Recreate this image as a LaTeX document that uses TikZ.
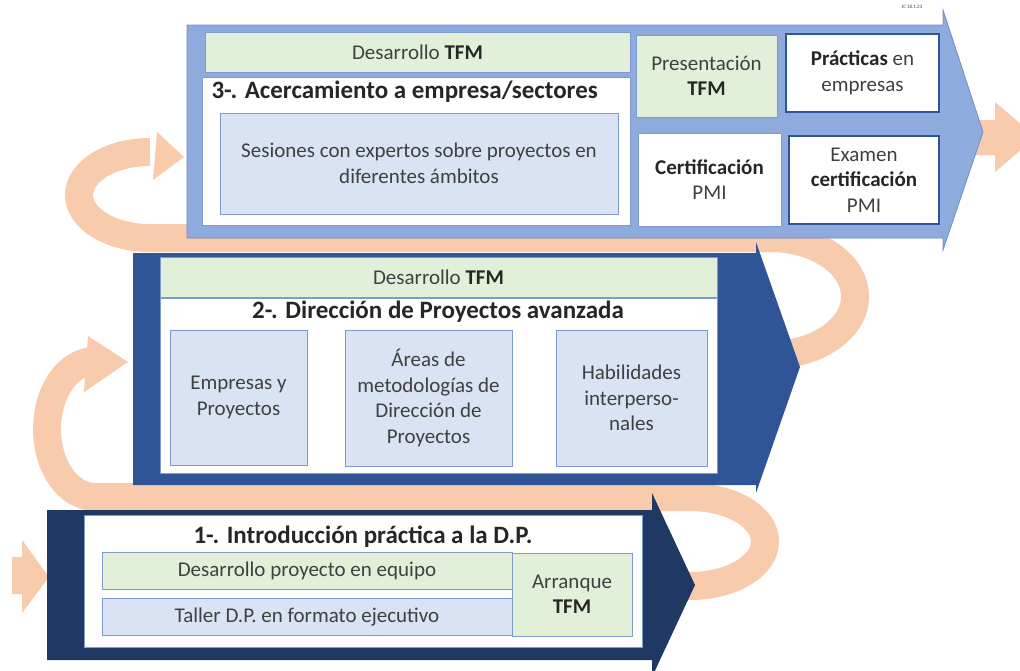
\documentclass[tikz,border=0pt]{standalone}
\usepackage{fontspec}
\setmainfont{Carlito}
\usetikzlibrary{positioning}

\definecolor{peach}{HTML}{F8CBAD}
\definecolor{lightblue}{HTML}{8FAADC}
\definecolor{lightedge}{HTML}{6F8FCB}
\definecolor{midblue}{HTML}{2F5597}
\definecolor{navy}{HTML}{1F3864}
\definecolor{boxgreen}{HTML}{E2F0D9}
\definecolor{boxblue}{HTML}{DAE3F3}
\definecolor{edge}{HTML}{7F9ACD}
\definecolor{txt}{HTML}{404040}
\newcommand{\strongtxt}[1]{\textbf{\textcolor{black!85}{#1}}}

\begin{document}
\begin{tikzpicture}[x=1pt, y=-1pt,
	box/.style={draw=edge, line width=0.8pt, text=txt, align=center, inner sep=2pt, font=\fontsize{21}{25.5}\selectfont},
	tfmbox/.style={box, fill=boxgreen},
	topicbox/.style={box, fill=boxblue},
	plainbox/.style={box, fill=white},
	strongbox/.style={box, fill=white, draw=midblue, line width=2.4pt},
	panel/.style={draw=edge, line width=0.8pt, fill=white},
	title/.style={font=\fontsize{25}{30}\selectfont\bfseries, text=black!85},
	band/.style={draw=peach, line width=28pt}]
	\useasboundingbox (0,0) rectangle (1020,670);

	% peach connectors behind the stages
	\fill[peach] (12,557) -- (22,557) -- (22,540) -- (49,577) -- (22,613) -- (22,594) -- (12,594) -- cycle;
	\draw[band] (660,586) -- (690,586) .. controls (731.4,586) and (765,566.1) .. (765,541.5)
		.. controls (765,516.9) and (731.4,497) .. (690,497) -- (95,497)
		.. controls (68.5,497) and (47,466.6) .. (47,429)
		.. controls (47,391.4) and (68.5,361) .. (95,361);
	\fill[peach] (88,336) -- (128,362) -- (84,392) -- cycle;
	\draw[band] (760,355) -- (770,355) .. controls (816.9,355) and (855,328.8) .. (855,296.5)
		.. controls (855,264.2) and (816.9,238) .. (770,238) -- (150,238)
		.. controls (110.8,238) and (79,218.7) .. (79,195)
		.. controls (79,171.3) and (110.8,152) .. (150,152);
	\fill[peach] (157,132) -- (184,157) -- (153,180) -- cycle;
	\fill[peach] (940,120) -- (995,120) -- (995,102) -- (1036,137) -- (995,172) -- (995,155) -- (940,155) -- cycle;

	% stage 3
	\filldraw[fill=lightblue, draw=lightedge, line width=0.8pt] (187,25) -- (943,25) -- (943,10) -- (983,132) -- (943,250) -- (943,238) -- (187,238) -- cycle;
	\node[font=\fontsize{5}{6}\selectfont, text=txt] (stamp) at (912,7) {JC 18.1.23};
	\node[tfmbox, minimum width=425, minimum height=40] (dtfm3) at (417.5,52) {Desarrollo \strongtxt{TFM}};
	\node[panel, minimum width=428, minimum height=148] (panel3) at (416,151) {};
	\node[title, anchor=west] (title3) at (208,92) {3-. Acercamiento a empresa/sectores};
	\node[topicbox, minimum width=398, minimum height=101] (ses) at (419,163.5) {Sesiones con expertos sobre proyectos en\\diferentes ámbitos};
	\node[tfmbox, minimum width=141, minimum height=82] (pres) at (706.5,76) {Presentación\\\strongtxt{TFM}};
	\node[strongbox, minimum width=153, minimum height=78] (prac) at (862.5,73) {\strongtxt{Prácticas} en\\empresas};
	\node[plainbox, minimum width=143, minimum height=93] (cert) at (709.5,179.5) {\strongtxt{Certificación}\\PMI};
	\node[strongbox, minimum width=150, minimum height=88] (exam) at (864,180) {Examen\\\strongtxt{certificación}\\PMI};

	% stage 2
	\fill[midblue] (133,253) -- (756,253) -- (756,242) -- (800,367) -- (756,493) -- (756,485) -- (133,485) -- cycle;
	\node[tfmbox, minimum width=557, minimum height=40] (dtfm2) at (438.5,277) {Desarrollo \strongtxt{TFM}};
	\node[panel, minimum width=557, minimum height=175] (panel2) at (438.5,385.5) {};
	\node[title] (title2) at (438,312) {2-. Dirección de Proyectos avanzada};
	\node[topicbox, minimum width=137, minimum height=135] (emp) at (238.5,397.5) {Empresas y\\Proyectos};
	\node[topicbox, minimum width=167, minimum height=136] (areas) at (428.5,398) {Áreas de\\metodologías de\\Dirección de\\Proyectos};
	\node[topicbox, minimum width=151, minimum height=136] (hab) at (631.5,398) {Habilidades\\interperso-\\nales};

	% stage 1
	\fill[navy] (47,510) -- (652,510) -- (652,493) -- (695,585) -- (652,677) -- (652,660) -- (47,660) -- cycle;
	\node[panel, minimum width=558, minimum height=132] (panel1) at (363,581) {};
	\node[title] (title1) at (363,537) {1-. Introducción práctica a la D.P.};
	\node[tfmbox, minimum width=410, minimum height=37] (equipo) at (307,570.5) {Desarrollo proyecto en equipo};
	\node[topicbox, minimum width=410, minimum height=37] (taller) at (307,616.5) {Taller D.P. en formato ejecutivo};
	\node[tfmbox, minimum width=120, minimum height=83] (arranque) at (572,594.5) {Arranque\\\strongtxt{TFM}};
\end{tikzpicture}
\end{document}
